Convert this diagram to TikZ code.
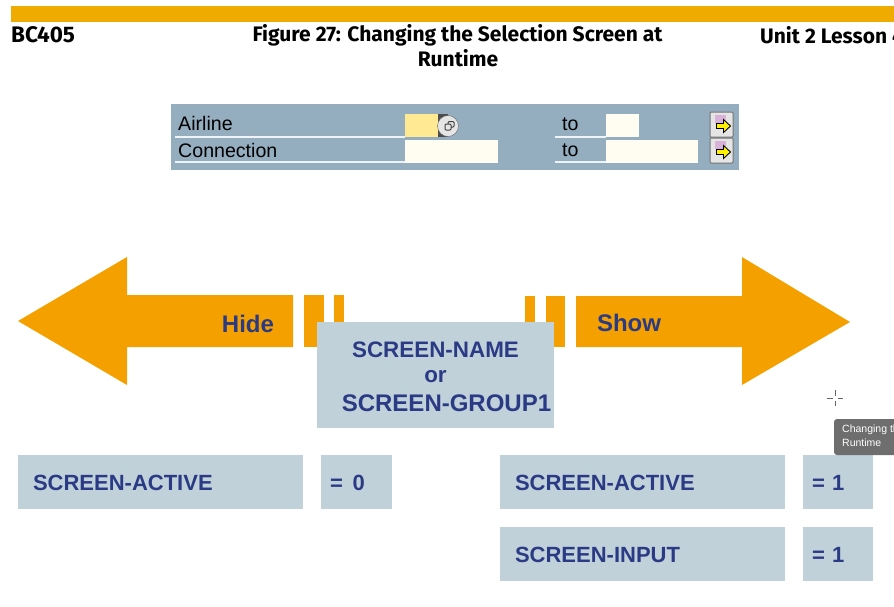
\documentclass[tikz,border=0pt]{standalone}
\usepackage{fontspec}
\setmainfont{Liberation Sans}
\newfontfamily\headfont{Fira Sans}
\usetikzlibrary{positioning}
\definecolor{barorange}{HTML}{F0AB00}
\definecolor{arroworange}{HTML}{F4A100}
\definecolor{boxblue}{HTML}{C1D1DA}
\definecolor{textblue}{HTML}{2B3A84}
\definecolor{panelblue}{HTML}{94ADBF}
\definecolor{fieldcream}{HTML}{FFFDF2}
\definecolor{fieldyellow}{HTML}{FFE992}
\definecolor{tipgrey}{HTML}{6E6E6E}
\tikzset{
	headtext/.style={font=\headfont\bfseries\fontsize{21}{24}\selectfont, text=black, inner sep=0pt},
	valuebox/.style={fill=boxblue, inner sep=0pt, minimum height=54, text height=20, text depth=4, align=left, font=\bfseries\fontsize{22}{27}\selectfont, text=textblue},
	namebox/.style={valuebox, minimum width=285, text width=255},
	centretext/.style={font=\bfseries\fontsize{22.4}{27}\selectfont, text=textblue, inner sep=0pt},
	paneltext/.style={font=\fontsize{19.6}{24}\selectfont, text=black, inner sep=0pt},
	arrowtext/.style={font=\bfseries\fontsize{24}{28}\selectfont, text=textblue, inner sep=0pt},
	panelline/.style={white!85!panelblue, line width=1.5pt},
	keybox/.style={fill=black!10, draw=black!55, line width=1pt, rounded corners=1pt},
	tiptext/.style={font=\fontsize{10.5}{14}\selectfont, text=white, inner sep=0pt, anchor=west},
}
\begin{document}
\begin{tikzpicture}[x=1pt,y=-1pt]
	\useasboundingbox (0,0) rectangle (894,606);
	\clip (0,0) rectangle (894,606);
	% top bar and title
	\fill[barorange] (11,6) rectangle (894,22);
	\node[headtext, anchor=west, font=\headfont\bfseries\fontsize{22.5}{24}\selectfont] (course) at (11,35) {BC405};
	\node[headtext, anchor=center] (title) at (457.5,35) {Figure 27: Changing the Selection Screen at};
	\node[headtext, anchor=center] (titletwo) at (458,58) {Runtime};
	\node[headtext, anchor=west] (unit) at (760,35) {Unit 2 Lesson 4};
	% selection screen
	\fill[panelblue] (171,104) rectangle (739,170);
	\draw[panelline] (175,137) -- (405,137);
	\draw[panelline] (175,162) -- (405,162);
	\draw[panelline] (555,137) -- (606,137);
	\draw[panelline] (555,162) -- (606,162);
	\node[paneltext, anchor=west] (airline) at (178,123) {Airline};
	\node[paneltext, anchor=west] (connection) at (178,150) {Connection};
	\node[paneltext, anchor=west] (toone) at (562,124) {to};
	\node[paneltext, anchor=west] (totwo) at (562,150) {to};
	\fill[fieldyellow] (405,114) rectangle (438,137);
	\fill[fieldcream] (405,140) rectangle (498,163);
	\fill[fieldcream] (606,114) rectangle (639,137);
	\fill[fieldcream] (606,140) rectangle (698,163);
	% search help button
	\fill[black!70] (438,114) rectangle (448,137);
	\fill[black!10, draw=black!60] (448,126) circle (10.5);
	\draw[black!75, line width=1pt, rounded corners=1pt] (445,124) rectangle (451,130);
	\draw[black!75, line width=1pt, rounded corners=1pt] (448,124) -- (448,121.5) -- (454,121.5) -- (454,127) -- (451,127);
	% multiple selection buttons
	\foreach \ytop/\nm in {112/one,138/two}{
		\node[keybox, minimum width=23, minimum height=25, inner sep=0pt] (key\nm) at (721.5,\ytop+12.5) {};
		\fill[violet!30] ([xshift=-7,yshift=2]key\nm.center) rectangle ([xshift=4,yshift=10]key\nm.center);
		\fill[yellow, draw=black, line width=0.9pt] ([xshift=-5,yshift=-4]key\nm.center) -- ([xshift=2,yshift=-4]key\nm.center) -- ([xshift=2,yshift=-8]key\nm.center) -- ([xshift=9,yshift=-1.5]key\nm.center) -- ([xshift=2,yshift=5]key\nm.center) -- ([xshift=2,yshift=1]key\nm.center) -- ([xshift=-5,yshift=1]key\nm.center) -- cycle;
	}
	% hide arrow
	\fill[arroworange] (18,321) -- (127,257) -- (127,295) -- (293,295) -- (293,347) -- (127,347) -- (127,385) -- cycle;
	\fill[arroworange] (304,295) rectangle (324,347);
	\fill[arroworange] (334,295) rectangle (344,347);
	\node[arrowtext] (hide) at (248,324) {Hide};
	% show arrow
	\fill[arroworange] (850,322) -- (742,257) -- (742,296) -- (576,296) -- (576,347) -- (742,347) -- (742,385) -- cycle;
	\fill[arroworange] (546,296) rectangle (565,347);
	\fill[arroworange] (525,296) rectangle (535,347);
	\node[arrowtext] (show) at (629,323) {Show};
	% centre box
	\fill[boxblue] (317,322) rectangle (554,428);
	\node[centretext] (name) at (435.5,350) {SCREEN-NAME};
	\node[centretext] (orword) at (435.5,377) {or};
	\node[centretext, font=\bfseries\fontsize{24}{27}\selectfont] (group) at (446.5,403.5) {SCREEN-GROUP1};
	% attribute boxes
	\node[namebox] (hideactive) at (160.5,482) {SCREEN-ACTIVE};
	\node[valuebox, minimum width=71, text width=53] (hidevalue) at (356.5,482) {=\hspace{0.45em}0};
	\node[namebox] (showactive) at (642.5,482) {SCREEN-ACTIVE};
	\node[valuebox, minimum width=70, text width=52] (showvalue) at (838,482) {= 1};
	\node[namebox] (showinput) at (642.5,554) {SCREEN-INPUT};
	\node[valuebox, minimum width=70, text width=52] (inputvalue) at (838,554) {= 1};
	% cursor and tooltip
	\draw[black!60, line width=0.7pt] (827,398) -- (832.5,398) (837.5,398) -- (843,398) (835,390) -- (835,395.5) (835,400.5) -- (835,406);
	\fill[tipgrey, rounded corners=3pt] (834,419) rectangle (900,455);
	\node[tiptext] (tipone) at (842,430) {Changing the};
	\node[tiptext] (tiptwo) at (842,443) {Runtime};
\end{tikzpicture}
\end{document}
